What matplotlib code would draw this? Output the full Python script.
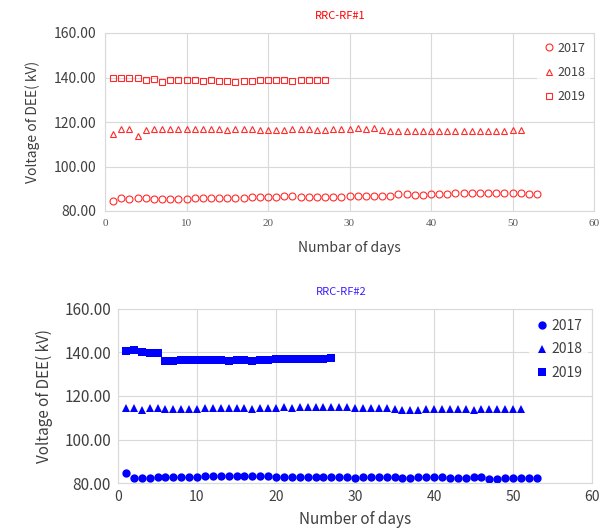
import matplotlib
matplotlib.use("Agg")
import matplotlib.pyplot as plt

plt.rcParams['font.family'] = ['Noto Sans CJK JP', 'DejaVu Sans']

# ---------------- data ----------------
rf1_2017 = [84.6, 85.8, 85.3, 85.8, 85.8, 85.6, 85.4, 85.4, 85.4, 85.4,
            85.7, 85.8, 85.8, 85.8, 85.8, 85.8, 85.8, 86.1, 86.3, 86.1,
            86.1, 86.6, 86.6, 86.4, 86.4, 86.4, 86.4, 86.4, 86.1, 86.6,
            86.6, 86.6, 86.6, 86.6, 86.6, 87.5, 87.5, 87.3, 87.3, 87.6,
            87.6, 87.8, 88.0, 88.2, 88.0, 88.0, 88.3, 88.2, 88.0, 88.0,
            88.0, 87.8, 87.8]
rf1_2018 = [114.8, 116.7, 116.7, 113.8, 116.5, 116.7, 116.7, 116.7, 116.7, 116.7,
            117.0, 117.0, 117.0, 116.8, 116.6, 116.8, 116.8, 116.9, 116.6, 116.6,
            116.6, 116.6, 116.8, 116.9, 116.8, 116.5, 116.5, 116.7, 116.8, 116.8,
            117.2, 117.0, 117.2, 116.2, 116.0, 116.0, 116.0, 115.8, 115.8, 116.0,
            116.0, 115.9, 115.9, 115.8, 116.1, 116.1, 116.1, 116.1, 116.1, 116.2,
            116.2]
rf1_2019 = [140.0, 140.0, 139.7, 140.0, 138.9, 139.3, 138.2, 138.9, 138.9, 138.8,
            138.8, 138.4, 138.8, 138.5, 138.5, 138.2, 138.5, 138.5, 138.8, 138.8,
            138.8, 138.8, 138.4, 138.8, 138.8, 138.8, 138.8]

rf2_2017 = [84.5, 82.4, 82.3, 82.4, 82.6, 82.6, 82.7, 82.8, 82.8, 82.8,
            83.0, 83.0, 83.0, 83.0, 83.1, 83.0, 83.0, 83.0, 83.0, 82.8,
            82.8, 82.8, 82.8, 82.8, 82.6, 82.6, 82.6, 82.6, 82.8, 82.4,
            82.6, 82.6, 82.6, 82.6, 82.6, 82.4, 82.4, 82.6, 82.6, 82.6,
            82.6, 82.4, 82.2, 82.4, 82.6, 82.6, 81.9, 81.9, 82.1, 82.1,
            82.1, 82.1, 82.1]
rf2_2018 = [114.7, 114.5, 113.6, 114.5, 114.5, 114.2, 114.2, 113.9, 114.2, 114.2,
            114.7, 114.4, 114.4, 114.6, 114.7, 114.5, 113.8, 114.7, 114.7, 114.7,
            115.0, 114.7, 114.9, 114.9, 114.9, 115.0, 114.9, 114.9, 114.9, 114.7,
            114.6, 114.6, 114.6, 114.7, 113.8, 113.6, 113.5, 113.6, 113.9, 113.8,
            113.8, 113.8, 114.0, 113.9, 113.7, 113.9, 114.0, 114.0, 114.0, 113.9,
            114.0]
rf2_2019 = [140.6, 141.0, 140.0, 139.7, 139.7, 135.9, 135.9, 136.5, 136.5, 136.5,
            136.5, 136.5, 136.5, 136.0, 136.5, 136.5, 136.2, 136.5, 136.5, 137.0,
            137.0, 137.0, 137.0, 137.0, 137.0, 137.0, 137.3]

years = ["2017", "2018", "2019"]
titles = ["RRC-RF#1", "RRC-RF#2"]
ylabel = "Voltage of DEE( kV)"
xlabels = ["Numbar of days", "Number of days"]
yticks = [80, 100, 120, 140, 160]
xticks = [0, 10, 20, 30, 40, 50, 60]

W, H = 600, 528
fig = plt.figure(figsize=(6.0, 5.28), dpi=100)

def px_axes(l, t, r, b):
    return fig.add_axes([l / W, 1 - b / H, (r - l) / W, (b - t) / H])

grid_c = '#d9d9d9'
text_c = '#404040'

# -------- top panel --------
ax1 = px_axes(105, 33, 594, 211)
red = '#ff2a2a'
for vals, m, lab, ms in zip([rf1_2017, rf1_2018, rf1_2019], ['o', '^', 's'], years, [5, 5, 4.6]):
    ax1.plot(range(1, len(vals) + 1), vals, linestyle='none', marker=m,
             markersize=ms, markerfacecolor='none', markeredgecolor=red,
             markeredgewidth=0.8, label=lab)
ax1.set_xlim(0, 60)
ax1.set_ylim(80, 160)
ax1.set_xticks(xticks)
ax1.set_yticks(yticks)
ax1.set_yticklabels([f"{v:.2f}" for v in yticks], fontsize=10, color=text_c)
ax1.set_xticklabels([str(v) for v in xticks], fontsize=8, color='#595959',
                    family='Liberation Serif')
ax1.tick_params(length=0, pad=6)
ax1.grid(True, color=grid_c, linewidth=0.8)
ax1.set_axisbelow(True)
for s in ax1.spines.values():
    s.set_color(grid_c)
ax1.set_title(titles[0], color='#ff0000', fontsize=8, pad=10, x=0.48)
ax1.set_xlabel(xlabels[0], fontsize=10, color=text_c, labelpad=9)
ax1.set_ylabel(ylabel, fontsize=10, color=text_c, labelpad=10)
leg1 = ax1.legend(loc='upper right', frameon=True, fontsize=9, handletextpad=0.2,
                  handlelength=1.0, labelspacing=0.9, borderaxespad=0.3,
                  labelcolor=text_c)
leg1.get_frame().set_facecolor('white')
leg1.get_frame().set_edgecolor('none')

# -------- bottom panel --------
ax2 = px_axes(118, 309, 592, 483)
blue = '#0000ff'
for vals, m, lab, ms in zip([rf2_2017, rf2_2018, rf2_2019], ['o', '^', 's'], years, [6, 6, 6]):
    ax2.plot(range(1, len(vals) + 1), vals, linestyle='none', marker=m,
             markersize=ms, color=blue, markeredgewidth=0, label=lab)
ax2.set_xlim(0, 60)
ax2.set_ylim(80, 160)
ax2.set_xticks(xticks)
ax2.set_yticks(yticks)
ax2.set_yticklabels([f"{v:.2f}" for v in yticks], fontsize=11, color=text_c)
ax2.set_xticklabels([str(v) for v in xticks], fontsize=10, color=text_c)
ax2.tick_params(length=0, pad=5)
ax2.grid(True, color=grid_c, linewidth=0.8)
ax2.set_axisbelow(True)
for s in ax2.spines.values():
    s.set_color(grid_c)
ax2.set_title(titles[1], color='#3b1fff', fontsize=8, pad=10, x=0.47)
ax2.set_xlabel(xlabels[1], fontsize=11, color=text_c, labelpad=5)
ax2.set_ylabel(ylabel, fontsize=11, color=text_c, labelpad=8)
leg2 = ax2.legend(loc='upper right', frameon=True, fontsize=10, handletextpad=0.2,
                  handlelength=1.0, labelspacing=0.7, borderaxespad=0.3,
                  labelcolor=text_c)
leg2.get_frame().set_facecolor('white')
leg2.get_frame().set_edgecolor('none')

fig.savefig("out.png", dpi=100)
